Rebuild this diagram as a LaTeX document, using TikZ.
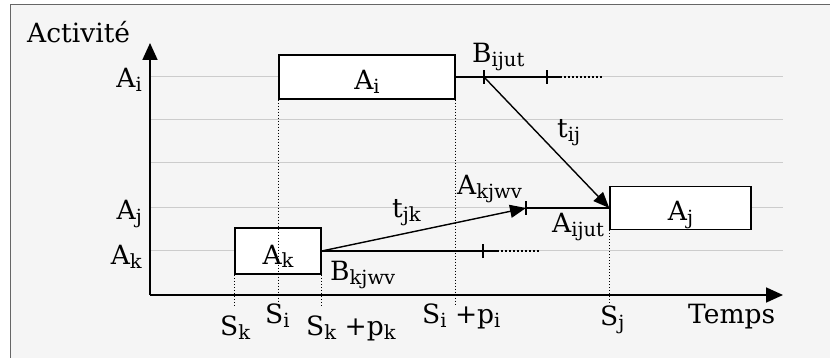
\documentclass[tikz,border=0pt]{standalone}
\usepackage{fontspec}
\setmainfont{DejaVu Serif}
\usepackage{tikz}
\usetikzlibrary{arrows.meta}
\definecolor{panel}{HTML}{F5F5F5}
\definecolor{rule}{HTML}{CCCCCC}
\newcommand\subtxt[1]{\raisebox{-4pt}{\fontsize{19.5}{20}\selectfont #1}}

\begin{document}
\begin{tikzpicture}[x=1pt, y=-1pt, >={Triangle[length=16pt,width=13pt]},
    font=\fontsize{26.5}{31}\selectfont,
    box/.style={draw, line width=1.5pt, fill=white, inner sep=0pt, text height=26pt, text depth=0pt},
    lbl/.style={inner sep=0pt},
    grid/.style={draw=rule, line width=1pt},
    axis/.style={line width=1.8pt, -{Triangle[length=17pt,width=15pt]}},
    guide/.style={line width=1pt, dash pattern=on 1.2pt off 1.8pt},
    flow/.style={line width=1.4pt},
    tail/.style={line width=1.4pt, dash pattern=on 2pt off 2pt},
    tick/.style={line width=1.2pt}]
    \useasboundingbox (0,0) rectangle (830,358);
    \draw[fill=panel, draw=black!60, line width=1pt] (10,5) rectangle (845,375);

    %grid
    \foreach \y in {77,120,163,208,251}
        \draw[grid] (150,\y) -- (783,\y);

    %axes
    \coordinate (O) at (150,295);
    \coordinate (ytop) at (150,43);
    \coordinate (xend) at (783,295);
    \draw[axis] (O) -- (ytop);
    \draw[axis] (O) -- (xend);
    \node (act) [lbl, anchor=base west] at (27,43) {Activité};
    \node (temps) [lbl, anchor=base west] at (688,323) {Temps};
    \node (yAi) [lbl, anchor=base east] at (142,88) {A\subtxt{i}};
    \node (yAj) [lbl, anchor=base east] at (142,220) {A\subtxt{j}};
    \node (yAk) [lbl, anchor=base east] at (142,265) {A\subtxt{k}};

    %activities
    \node (Ai) [box, minimum width=176pt, minimum height=44pt] at (367,77) {A\subtxt{i}};
    \node (Ak) [box, minimum width=86pt, minimum height=46pt] at (278,251) {A\subtxt{k}};
    \node (Aj) [box, minimum width=141pt, minimum height=43pt] at (680.5,208) {A\subtxt{j}};

    %dates
    \coordinate (low) at (0,305);
    \draw[guide] (Ai.south west) -- (Ai.south west |- low);
    \draw[guide] (Ai.south east) -- (Ai.south east |- low);
    \draw[guide] (Ak.south west) -- (Ak.south west |- low);
    \draw[guide] (Ak.south east) -- (Ak.south east |- low);
    \draw[guide] (Aj.south west) -- (Aj.south west |- low);
    \node (Sk) [lbl, anchor=base west] at (220,335) {S\subtxt{k}};
    \node (Si) [lbl, anchor=base west] at (265,323) {S\subtxt{i}};
    \node (Skpk) [lbl, anchor=base west] at (306,335) {S\subtxt{k} +p\subtxt{k}};
    \node (Sipi) [lbl, anchor=base west] at (422,323) {S\subtxt{i} +p\subtxt{i}};
    \node (Sj) [lbl, anchor=base west] at (600,325) {S\subtxt{j}};

    %transitions from Ai
    \coordinate (Bijut) at (484,77);
    \coordinate (Bijut2) at (547,77);
    \coordinate (Biend) at (560,77);
    \coordinate (Bidot) at (603,77);
    \draw[flow] (Ai.east) -- (Biend);
    \draw[tail] (Biend) -- (Bidot);
    \draw[flow, ->] (Bijut) -- (Aj.west);
    \node (lBijut) [lbl, anchor=base west] at (472,63) {B\subtxt{ijut}};
    \node (ltij) [lbl, anchor=base west] at (557,138) {t\subtxt{ij}};

    %transitions from Ak
    \coordinate (Bkjwv) at (483,251);
    \coordinate (Bkend) at (497,251);
    \coordinate (Bkdot) at (540,251);
    \coordinate (Akjwv) at (526,208);
    \draw[flow] (Ak.east) -- (Bkend);
    \draw[tail] (Bkend) -- (Bkdot);
    \draw[flow, ->] (Ak.east) -- (Akjwv);
    \draw[flow] (Akjwv) -- (Aj.west);
    \node (lBkjwv) [lbl, anchor=base west] at (330,280) {B\subtxt{kjwv}};
    \node (ltjk) [lbl, anchor=base west] at (392,218) {t\subtxt{jk}};
    \node (lAkjwv) [lbl, anchor=base west] at (457,195) {A\subtxt{kjwv}};
    \node (lAijut) [lbl, anchor=base west] at (552,233) {A\subtxt{ijut}};

    %ticks
    \foreach \p in {Bijut, Bijut2, Bkjwv, Akjwv}
        \draw[tick] ([yshift=-7pt]\p) -- ([yshift=7pt]\p);
\end{tikzpicture}
\end{document}
